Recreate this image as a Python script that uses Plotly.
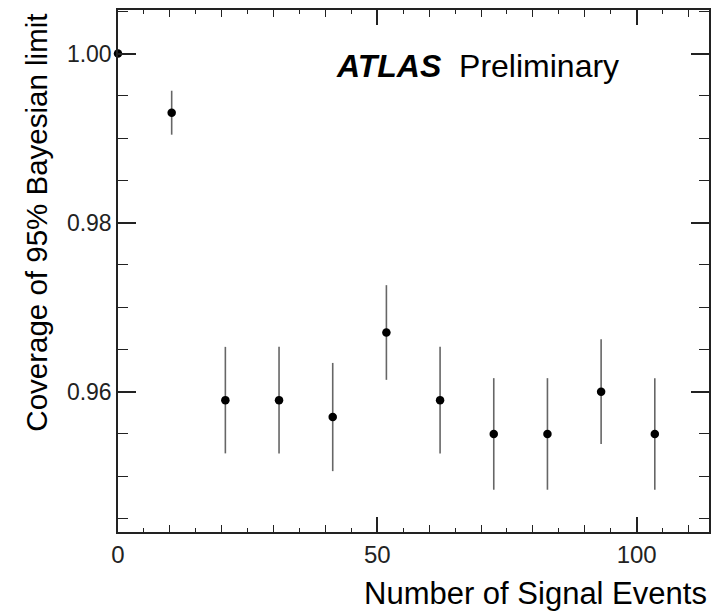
import plotly.graph_objects as go

# Data
n_signal = [0, 10.35, 20.7, 31.05, 41.4, 51.75, 62.1, 72.45, 82.8, 93.15, 103.5]
coverage = [1.000, 0.993, 0.959, 0.959, 0.957, 0.967, 0.959, 0.955, 0.955, 0.960, 0.955]
cov_err = [0.0, 0.0026, 0.0063, 0.0063, 0.0064, 0.0056, 0.0063, 0.0066, 0.0066, 0.0062, 0.0066]

x_major_labels = [0, 50, 100]
x_range = [0, 113.95]
y_range = [0.9434, 1.00515]
y_ticks = [0.96, 0.98, 1.00]
y_ticklabels = ["0.96", "0.98", "1.00"]

FONT = "Liberation Sans, Arial, Helvetica, sans-serif"
AX = "#222222"

fig = go.Figure()
fig.add_trace(go.Scatter(
    x=n_signal, y=coverage, mode="markers",
    marker=dict(color="black", size=8.5),
    error_y=dict(type="data", array=cov_err, visible=True, width=0,
                 thickness=1.6, color="#666666"),
    cliponaxis=False, showlegend=False, hoverinfo="x+y",
))
# invisible trace on overlay axis (long ticks at 0, 50, 100)
fig.add_trace(go.Scatter(x=[x_range[0]], y=[y_range[0]], xaxis="x2", mode="markers",
                         marker=dict(opacity=0), showlegend=False, hoverinfo="skip"))

x10 = list(range(0, 111, 10))
fig.update_layout(
    width=728, height=613,
    margin=dict(l=118, r=19, t=8, b=81),
    paper_bgcolor="white", plot_bgcolor="white",
    font=dict(family=FONT, color="black"),
    xaxis=dict(
        range=x_range, showgrid=False, zeroline=False,
        showline=True, linecolor=AX, linewidth=1.5, mirror="ticks",
        ticks="inside", tickvals=x10,
        ticktext=[str(v) if v in x_major_labels else "" for v in x10],
        ticklen=7, tickwidth=1.2, tickcolor=AX,
        tickfont=dict(size=24, color="#222222"),
        minor=dict(dtick=5, tick0=0, ticks="inside", ticklen=4, tickwidth=1.2, tickcolor=AX),
    ),
    xaxis2=dict(
        range=x_range, overlaying="x", side="bottom", showgrid=False, zeroline=False,
        showline=False, ticks="inside", tickvals=x_major_labels, ticklen=15,
        tickwidth=1.5, tickcolor=AX, showticklabels=False, mirror="ticks",
    ),
    yaxis=dict(
        range=y_range, showgrid=False, zeroline=False,
        showline=True, linecolor=AX, linewidth=1.5, mirror="ticks",
        ticks="inside", tickvals=y_ticks, ticktext=y_ticklabels,
        ticklen=18, tickwidth=1.5, tickcolor=AX,
        tickfont=dict(size=23, color="#222222"),
        minor=dict(dtick=0.005, tick0=0.96, ticks="inside", ticklen=10,
                   tickwidth=1.2, tickcolor=AX),
    ),
    annotations=[
        dict(text="Number of Signal Events", xref="paper", yref="paper",
             x=1.0, y=-0.118, xanchor="right", yanchor="middle",
             showarrow=False, font=dict(size=31, family=FONT, color="black")),
        dict(text="Coverage of 95% Bayesian limit", xref="paper", yref="paper",
             x=-0.1376, y=0.9962, xanchor="center", yanchor="top", textangle=-90,
             showarrow=False, font=dict(size=29.5, family=FONT, color="black")),
        dict(text="<b><i>ATLAS</i></b>&nbsp; Preliminary", xref="paper", yref="paper",
             x=0.366, y=0.893, xanchor="left", yanchor="middle",
             showarrow=False, font=dict(size=32, family=FONT, color="black")),
    ],
)

fig.write_html("out.html")
